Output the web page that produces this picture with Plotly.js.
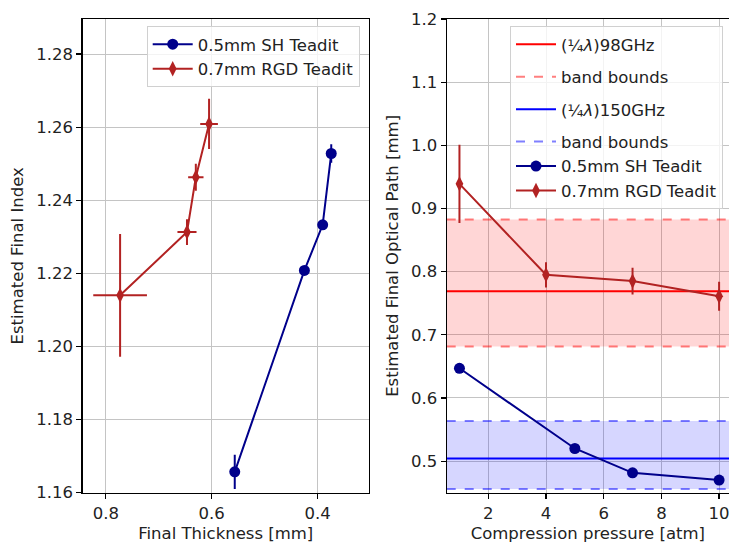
<!DOCTYPE html>
<html>
<head>
<meta charset="utf-8">
<script src="https://cdn.plot.ly/plotly-3.0.1.min.js"></script>
<style>html,body{margin:0;padding:0;background:#fff;}#chart{width:729px;height:543px;}</style>
</head>
<body>
<div id="chart"></div>
<script>
// ---- Data ----
const seriesNames = ["0.5mm SH Teadit", "0.7mm RGD Teadit"];

// Left panel: final thickness vs estimated final index
const shThickness = [0.5565, 0.425, 0.3905, 0.3743];
const shIndex = [1.1657, 1.2208, 1.2333, 1.2528];
const shIndexErr = [0.0047, 0.001, 0.001, 0.0025];

const rgdThickness = [0.773, 0.6467, 0.630, 0.605];
const rgdThicknessErr = [0.0507, 0.018, 0.0145, 0.0167];
const rgdIndex = [1.214, 1.2313, 1.2463, 1.2609];
const rgdIndexErr = [0.0168, 0.0035, 0.0037, 0.0069];

// Right panel: compression pressure vs optical path
const shPressure = [1, 5, 7, 10];
const shPath = [0.647, 0.520, 0.4815, 0.470];
const shPathErr = [0.003, 0.003, 0.003, 0.003];

const rgdPressure = [1, 4, 7, 10];
const rgdPath = [0.939, 0.795, 0.785, 0.761];
const rgdPathErr = [0.062, 0.02, 0.021, 0.023];

// Quarter-wave references and band bounds [lower, centre, upper]
const band98 = [0.6815, 0.769, 0.8826];
const band150 = [0.4558, 0.5043, 0.5637];
const bandLabels = ["(¼<i>λ</i>)98GHz", "band bounds", "(¼<i>λ</i>)150GHz", "band bounds"];

// Axis ranges
const leftXRange = [0.844, 0.303];
const leftYRange = [1.16, 1.2896];
const rightXRange = [0.558, 10.343];
const rightYRange = [0.45, 1.2];
const leftXTicks = [0.8, 0.6, 0.4];
const leftYTicks = [1.16, 1.18, 1.20, 1.22, 1.24, 1.26, 1.28];
const rightXTicks = [2, 4, 6, 8, 10];
const rightYTicks = [0.5, 0.6, 0.7, 0.8, 0.9, 1.0, 1.1, 1.2];

// ---- Styles ----
const NAVY = "#00008b", FIRE = "#b22222";
const FONT = "DejaVu Sans, sans-serif";
const FS = 16.5;

function hline(y, color, dash, name, showlegend, group) {
  return {x: rightXRange, y: [y, y], xaxis: "x2", yaxis: "y2", mode: "lines",
    line: {color: color, width: 2, dash: dash}, name: name, showlegend: showlegend,
    legend: "legend2", legendgroup: group, hoverinfo: "skip"};
}

const traces = [];
// fills (behind)
traces.push({x: rightXRange, y: [band98[0], band98[0]], xaxis: "x2", yaxis: "y2", mode: "lines", line: {width: 0}, showlegend: false, legend: "legend2", legendgroup: "g2", hoverinfo: "skip"});
traces.push({x: rightXRange, y: [band98[2], band98[2]], xaxis: "x2", yaxis: "y2", mode: "lines", line: {width: 0}, fill: "tonexty", fillcolor: "rgba(255,0,0,0.16)", showlegend: false, legend: "legend2", legendgroup: "g2", hoverinfo: "skip"});
traces.push({x: rightXRange, y: [band150[0], band150[0]], xaxis: "x2", yaxis: "y2", mode: "lines", line: {width: 0}, showlegend: false, legend: "legend2", legendgroup: "g4", hoverinfo: "skip"});
traces.push({x: rightXRange, y: [band150[2], band150[2]], xaxis: "x2", yaxis: "y2", mode: "lines", line: {width: 0}, fill: "tonexty", fillcolor: "rgba(0,0,255,0.16)", showlegend: false, legend: "legend2", legendgroup: "g4", hoverinfo: "skip"});

// left panel series
traces.push({x: shThickness, y: shIndex, xaxis: "x", yaxis: "y", mode: "lines+markers", name: seriesNames[0],
  line: {color: NAVY, width: 2}, marker: {color: NAVY, size: 11, symbol: "circle"},
  error_y: {type: "data", array: shIndexErr, color: NAVY, thickness: 2, width: 0}, legend: "legend"});
traces.push({x: rgdThickness, y: rgdIndex, xaxis: "x", yaxis: "y", mode: "lines+markers", name: seriesNames[1],
  line: {color: FIRE, width: 2}, marker: {color: FIRE, size: 11, symbol: "diamond-tall"},
  error_y: {type: "data", array: rgdIndexErr, color: FIRE, thickness: 2, width: 0},
  error_x: {type: "data", array: rgdThicknessErr, color: FIRE, thickness: 2, width: 0}, legend: "legend"});

// right panel reference lines
traces.push(hline(band98[1], "#ff0000", "solid", bandLabels[0], true, "g1"));
traces.push(hline(band98[2], "rgba(255,0,0,0.5)", "dash", bandLabels[1], true, "g2"));
traces.push(hline(band98[0], "rgba(255,0,0,0.5)", "dash", bandLabels[1], false, "g2"));
traces.push(hline(band150[1], "#0000ff", "solid", bandLabels[2], true, "g3"));
traces.push(hline(band150[2], "rgba(0,0,255,0.5)", "dash", bandLabels[3], true, "g4"));
traces.push(hline(band150[0], "rgba(0,0,255,0.5)", "dash", bandLabels[3], false, "g4"));

// right panel series
traces.push({x: shPressure, y: shPath, xaxis: "x2", yaxis: "y2", mode: "lines+markers", name: seriesNames[0],
  line: {color: NAVY, width: 2}, marker: {color: NAVY, size: 11, symbol: "circle"},
  error_y: {type: "data", array: shPathErr, color: NAVY, thickness: 2, width: 0}, legend: "legend2", legendgroup: "g4"});
traces.push({x: rgdPressure, y: rgdPath, xaxis: "x2", yaxis: "y2", mode: "lines+markers", name: seriesNames[1],
  line: {color: FIRE, width: 2}, marker: {color: FIRE, size: 11, symbol: "diamond-tall"},
  error_y: {type: "data", array: rgdPathErr, color: FIRE, thickness: 2, width: 0}, legend: "legend2", legendgroup: "g4"});

const W = 729, H = 543;
const yDom = [(H - 492.7) / H, (H - 19) / H];
const titleFont = {family: FONT, size: FS, color: "#222"};
const axCommon = {showgrid: true, gridcolor: "#c4c4c4", gridwidth: 1, zeroline: false,
  showline: true, linecolor: "#000", linewidth: 1.2, ticks: "outside", ticklen: 5, tickwidth: 1.2,
  tickcolor: "#000", tickfont: {family: FONT, size: FS, color: "#222"}, ticklabeloverflow: "allow"};

const legendCommon = {bgcolor: "rgba(255,255,255,0.8)", bordercolor: "#d0d0d0", borderwidth: 1,
  font: {family: FONT, size: FS, color: "#222"}, xanchor: "left", yanchor: "top",
  traceorder: "normal", itemwidth: 40};

const layout = {
  width: W, height: H,
  margin: {l: 0, r: 0, t: 0, b: 0},
  paper_bgcolor: "#fff", plot_bgcolor: "#fff",
  font: {family: FONT, size: FS, color: "#222"},
  xaxis: Object.assign({}, axCommon, {domain: [82.5 / W, 369 / W], range: leftXRange, tickvals: leftXTicks,
    ticktext: leftXTicks.map(v => v.toFixed(1)), mirror: true, anchor: "y",
    title: {text: "Final Thickness [mm]", font: titleFont, standoff: 6}}),
  yaxis: Object.assign({}, axCommon, {domain: yDom, range: leftYRange, tickvals: leftYTicks,
    ticktext: leftYTicks.map(v => v.toFixed(2)), mirror: true, anchor: "x",
    title: {text: "Estimated Final Index", font: titleFont, standoff: 8}}),
  xaxis2: Object.assign({}, axCommon, {domain: [446.7 / W, 1], range: rightXRange, tickvals: rightXTicks,
    ticktext: rightXTicks.map(v => String(v)), mirror: true, anchor: "y2",
    title: {text: "Compression pressure [atm]", font: titleFont, standoff: 6}}),
  yaxis2: Object.assign({}, axCommon, {domain: yDom, range: rightYRange, tickvals: rightYTicks,
    ticktext: rightYTicks.map(v => v.toFixed(1)), mirror: false, anchor: "x2",
    title: {text: "Estimated Final Optical Path [mm]", font: titleFont, standoff: 8}}),
  legend: Object.assign({}, legendCommon, {x: 146.7 / W, y: (H - 26) / H}),
  legend2: Object.assign({}, legendCommon, {x: 510 / W, y: (H - 26) / H, traceorder: "grouped", tracegroupgap: 8}),
  showlegend: true
};

Plotly.newPlot("chart", traces, layout, {displayModeBar: false, staticPlot: true});
</script>
</body>
</html>
